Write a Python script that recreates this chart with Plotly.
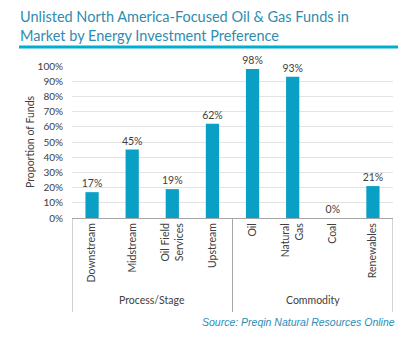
import plotly.graph_objects as go

# Energy investment preferences of unlisted North America-focused oil & gas funds
categories = ["Downstream", "Midstream", "Oil Field<br>Services", "Upstream",
              "Oil", "Natural<br>Gas", "Coal", "Renewables"]
shares = [0.17, 0.45, 0.19, 0.62, 0.98, 0.93, 0.00, 0.21]
bar_labels = ["17%", "45%", "19%", "62%", "98%", "93%", "0%", "21%"]
groups = ["Process/Stage", "Commodity"]
group_sizes = [4, 4]
y_ticks = [i / 10 for i in range(11)]
y_tick_text = [f"{i * 10}%" for i in range(11)]

BAR = "#0AA0C6"
TEAL = "#2F8CB0"
AXIS = "#A6A6A6"
TXT = "#404040"
FONT = "Lato, 'Noto Sans', sans-serif"

W, H = 413, 337
L, R, T, B = 72, 20, 66, 119
PW, PH = W - L - R, H - T - B


def px_x(px):
    """Pixel column -> paper x (paper spans the plot area)."""
    return (px - L) / PW


def px_y(py):
    """Pixel row from the top -> paper y."""
    return (H - B - py) / PH


x_pos = list(range(len(categories)))

fig = go.Figure(go.Bar(
    x=x_pos, y=shares, width=0.33,
    marker=dict(color=BAR, line=dict(width=0)),
    text=bar_labels, textposition="outside", cliponaxis=False, constraintext="none",
    textfont=dict(size=10.5, color=TXT, family=FONT),
))

# group dividers and group labels below the category axis
edges = [-0.5]
for n in group_sizes:
    edges.append(edges[-1] + n)
for e in edges:
    fig.add_shape(type="line", xref="x", yref="paper", x0=e, x1=e, y0=0, y1=px_y(312),
                  line=dict(color=AXIS, width=1))
for i, g in enumerate(groups):
    fig.add_annotation(x=(edges[i] + edges[i + 1]) / 2, y=px_y(300), xref="x", yref="paper",
                       text=g, showarrow=False, yanchor="middle",
                       font=dict(size=10.5, color=TXT, family=FONT))

# y-axis title
fig.add_annotation(x=px_x(22), y=0.5, xref="paper", yref="paper",
                   text="Proportion of Funds", textangle=-90, showarrow=False,
                   font=dict(size=10.5, color=TXT, family=FONT))

# heading with underline rule
fig.add_annotation(x=px_x(18), y=px_y(6), xref="paper", yref="paper",
                   text="Unlisted North America-Focused Oil &amp; Gas Funds in<br>Market by Energy Investment Preference",
                   showarrow=False, xanchor="left", yanchor="top", align="left",
                   font=dict(size=14.5, color=TEAL, family=FONT))
fig.add_shape(type="line", xref="paper", yref="paper",
              x0=px_x(19), x1=px_x(398), y0=px_y(47), y1=px_y(47),
              line=dict(color="#00AECF", width=3))

# source line
fig.add_annotation(x=px_x(397), y=px_y(322), xref="paper", yref="paper",
                   text="<i>Source: Preqin Natural Resources Online</i>",
                   showarrow=False, xanchor="right", yanchor="middle",
                   font=dict(size=10.5, color="#2A8DB5", family="'Liberation Sans', Arial, sans-serif"))

fig.update_layout(
    width=W, height=H,
    margin=dict(l=L, r=R, t=T, b=B),
    paper_bgcolor="white", plot_bgcolor="white",
    showlegend=False,
    font=dict(family=FONT, color=TXT, size=10),
    xaxis=dict(range=[-0.5, 7.5], tickvals=x_pos, ticktext=categories, tickangle=-90,
               showgrid=False, zeroline=False, showline=True, linecolor=AXIS, linewidth=1,
               ticks="", tickfont=dict(size=10.5, color=TXT, family=FONT), fixedrange=True),
    yaxis=dict(range=[0, 1.0], tickvals=y_ticks, ticktext=y_tick_text,
               showgrid=True, gridcolor="#E3E3E3", gridwidth=1, zeroline=False,
               showline=False, ticks="", ticklabelstandoff=8,
               tickfont=dict(size=10, color=TXT, family=FONT), fixedrange=True),
)

fig.write_html("out.html")
